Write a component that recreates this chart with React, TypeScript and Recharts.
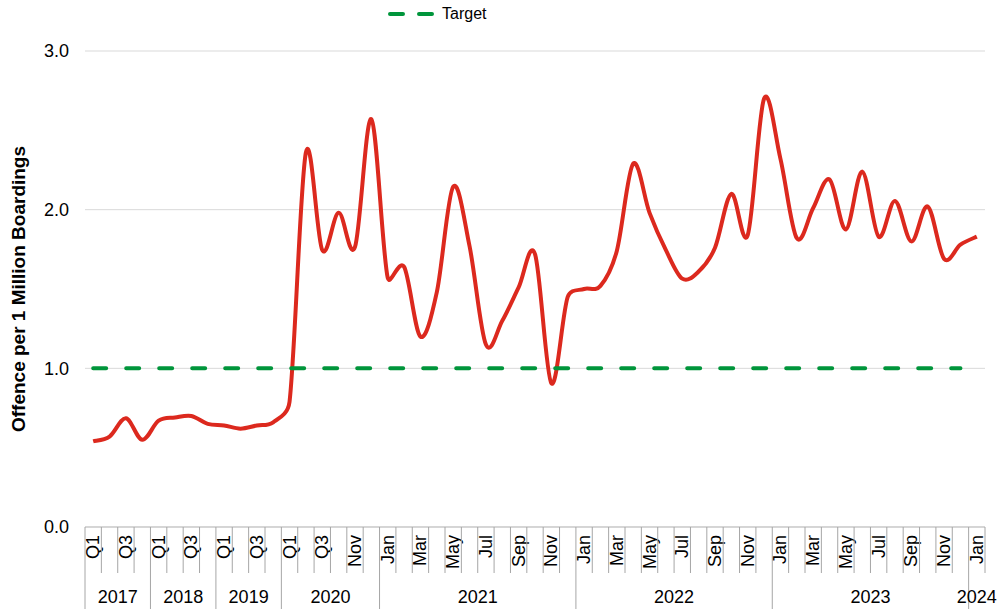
import React from 'react';
import { LineChart, Line, XAxis, YAxis, CartesianGrid } from 'recharts';

const periods = [
  'Q1', 'Q2', 'Q3', 'Q4',
  'Q1', 'Q2', 'Q3', 'Q4',
  'Q1', 'Q2', 'Q3', 'Q4',
  'Q1', 'Q2', 'Q3', 'Oct', 'Nov', 'Dec',
  'Jan', 'Feb', 'Mar', 'Apr', 'May', 'Jun', 'Jul', 'Aug', 'Sep', 'Oct', 'Nov', 'Dec',
  'Jan', 'Feb', 'Mar', 'Apr', 'May', 'Jun', 'Jul', 'Aug', 'Sep', 'Oct', 'Nov', 'Dec',
  'Jan', 'Feb', 'Mar', 'Apr', 'May', 'Jun', 'Jul', 'Aug', 'Sep', 'Oct', 'Nov', 'Dec',
  'Jan',
];

const years = ['2017', '2018', '2019', '2020', '2021', '2022', '2023', '2024'];
const yearSpans = [4, 4, 4, 6, 12, 12, 12, 1];

const offences = [
  0.54, 0.57, 0.685, 0.55, 0.67, 0.69, 0.7, 0.65, 0.64, 0.62, 0.64, 0.66,
  0.79, 2.36, 1.745, 1.98, 1.765, 2.57,
  1.57, 1.64, 1.2, 1.48, 2.145, 1.77, 1.15, 1.3, 1.51, 1.72, 0.905, 1.45,
  1.5, 1.52, 1.74, 2.29, 1.98, 1.745, 1.565, 1.61, 1.76, 2.1, 1.84, 2.7,
  2.32, 1.82, 2.01, 2.19, 1.875, 2.24, 1.83, 2.055, 1.8, 2.02, 1.69, 1.78,
  1.83,
];

// target drawn up to Dec 2023
const targets = offences.map((_, i) => (i < offences.length - 1 ? 1.0 : null));

const yTicks = [0, 1, 2, 3];

// year of each period, from the spans
const yearOf: string[] = [];
years.forEach((y, k) => {
  for (let j = 0; j < yearSpans[k]; j++) yearOf.push(y);
});

const data = periods.map((p, i) => ({
  period: p,
  year: yearOf[i],
  offence: offences[i],
  target: targets[i],
}));

const W = 997;
const H = 609;
const LEFT = 85;
const RIGHT = 12;
const PLOT_W = W - LEFT - RIGHT;
const STEP = PLOT_W / data.length;
const FONT = '"Liberation Sans", Arial, sans-serif';
const AXIS_FS = 18;

// Excel-style smoothed line: bezier with 1/6 tangents, capped at half the segment length
const smooth = (context: any) => {
  let pts: number[][] = [];
  const dist = (a: number[], b: number[]) => Math.hypot(a[0] - b[0], a[1] - b[1]);
  return {
    areaStart() {},
    areaEnd() {},
    lineStart() {
      pts = [];
    },
    lineEnd() {
      const n = pts.length;
      if (!n) return;
      context.moveTo(pts[0][0], pts[0][1]);
      for (let i = 0; i < n - 1; i++) {
        const p0 = pts[i > 0 ? i - 1 : i];
        const p1 = pts[i];
        const p2 = pts[i + 1];
        const p3 = pts[i + 2 < n ? i + 2 : i + 1];
        const d12 = dist(p1, p2);
        const d02 = dist(p0, p2);
        const d13 = dist(p1, p3);
        const f0 = d02 / 6 < d12 / 2 ? 1 / 6 : d12 / 2 / d02;
        const f3 = d13 / 6 < d12 / 2 ? 1 / 6 : d12 / 2 / d13;
        context.bezierCurveTo(
          p1[0] + (p2[0] - p0[0]) * f0,
          p1[1] + (p2[1] - p0[1]) * f0,
          p2[0] - (p3[0] - p1[0]) * f3,
          p2[1] - (p3[1] - p1[1]) * f3,
          p2[0],
          p2[1]
        );
      }
    },
    point(x: number, y: number) {
      pts.push([+x, +y]);
    },
  };
};

const PeriodTick = (props: any) => {
  const { x, y, payload } = props;
  const i = props.index ?? payload.index;
  const row = data[i];
  const left = x - STEP / 2;
  const firstOfYear = i === 0 || data[i - 1].year !== row.year;
  const isLast = i === data.length - 1;
  let yearLabel = null;
  if (firstOfYear) {
    const span = yearSpans[years.indexOf(row.year)];
    yearLabel = (
      <text x={left + (span * STEP) / 2} y={y + 76} textAnchor="middle" fontSize={AXIS_FS} fill="#000" fontFamily={FONT}>
        {row.year}
      </text>
    );
  }
  return (
    <g>
      <line x1={left} x2={left} y1={y} y2={firstOfYear ? H : y + 46} stroke="#a6a6a6" strokeWidth={1} />
      {isLast && <line x1={left + STEP} x2={left + STEP} y1={y} y2={y + 46} stroke="#a6a6a6" strokeWidth={1} />}
      {i % 2 === 0 && (
        <text
          transform={`translate(${x + 6},${y + 8}) rotate(-90)`}
          textAnchor="end"
          fontSize={AXIS_FS}
          fill="#000"
          fontFamily={FONT}
        >
          {row.period}
        </text>
      )}
      {yearLabel}
    </g>
  );
};

const YLabel = (props: any) => {
  const vb = props.viewBox;
  const cx = 18;
  const cy = vb.y + vb.height / 2;
  return (
    <text
      transform={`translate(${cx},${cy}) rotate(-90)`}
      textAnchor="middle"
      dominantBaseline="central"
      fontSize={19}
      fontWeight="bold"
      fill="#000"
      fontFamily={FONT}
    >
      Offence per 1 Million Boardings
    </text>
  );
};

export default function App() {
  return (
    <div style={{ position: 'absolute', left: 0, top: 0, width: W, height: H, background: '#fff', fontFamily: FONT }}>
      <div style={{ position: 'absolute', left: 386, top: 3, display: 'flex', alignItems: 'center', height: 22 }}>
        <svg width={50} height={22}>
          <line x1={4} x2={47} y1={11} y2={11} stroke="#00953b" strokeWidth={4} strokeLinecap="round" strokeDasharray="13 16" />
        </svg>
        <span style={{ fontSize: 16, color: '#000', marginLeft: 6 }}>Target</span>
      </div>
      <LineChart width={W} height={H} data={data} margin={{ top: 51, right: RIGHT, left: 0, bottom: 0 }}>
        <CartesianGrid vertical={false} stroke="#d9d9d9" />
        <XAxis
          dataKey="period"
          interval={0}
          height={82}
          padding={{ left: STEP / 2, right: STEP / 2 }}
          tickSize={0}
          tickMargin={0}
          tickLine={false}
          axisLine={{ stroke: '#bfbfbf' }}
          tick={<PeriodTick />}
        />
        <YAxis
          width={LEFT}
          domain={[0, 3]}
          ticks={yTicks}
          tickFormatter={(v: number) => v.toFixed(1)}
          axisLine={false}
          tickLine={false}
          tickSize={0}
          tickMargin={16}
          tick={{ fill: '#000', fontSize: AXIS_FS, fontFamily: FONT }}
          label={<YLabel />}
        />
        <Line
          dataKey="offence"
          type={smooth as any}
          stroke="#dc291e"
          strokeWidth={4}
          dot={false}
          activeDot={false}
          isAnimationActive={false}
        />
        <Line
          dataKey="target"
          type="linear"
          stroke="#00953b"
          strokeWidth={4}
          strokeLinecap="round"
          strokeDasharray="13 20"
          dot={false}
          activeDot={false}
          isAnimationActive={false}
        />
      </LineChart>
    </div>
  );
}
